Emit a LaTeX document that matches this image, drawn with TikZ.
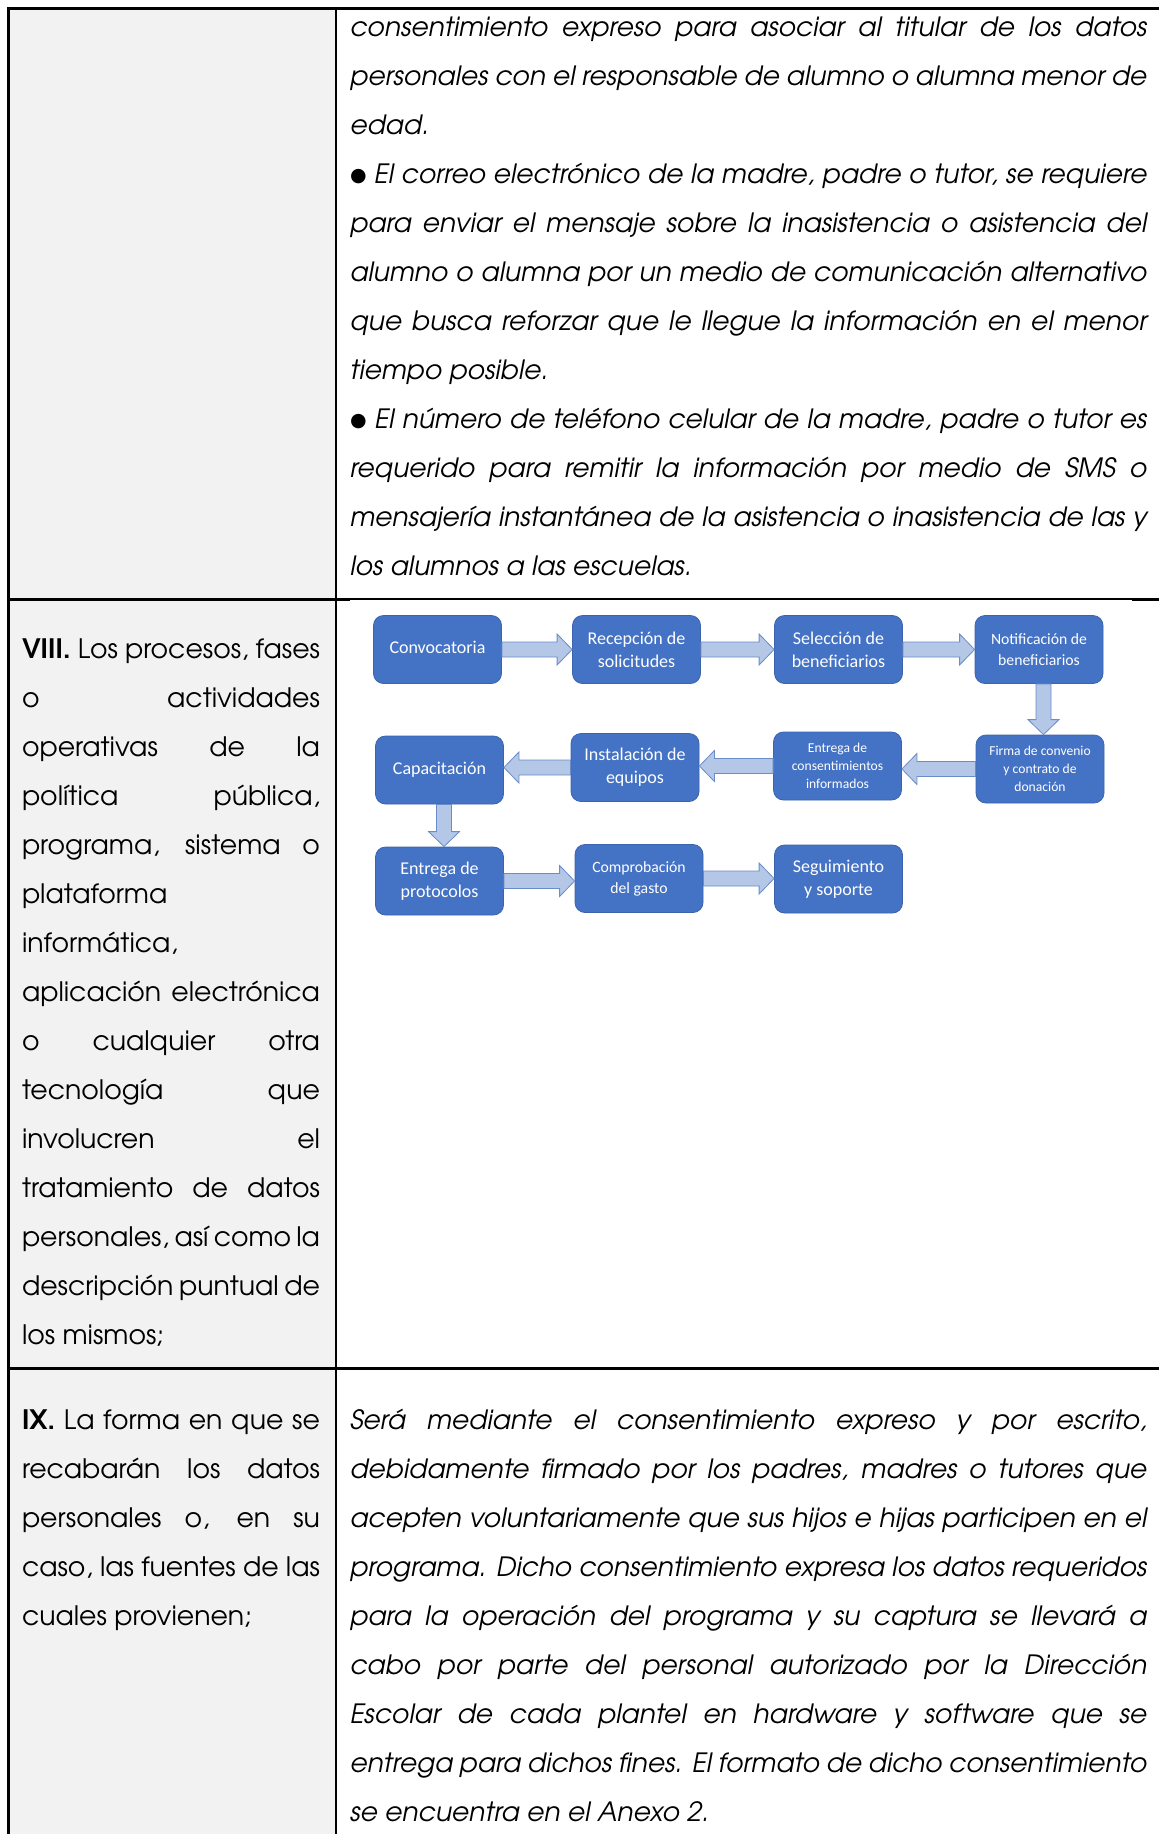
\documentclass[tikz,border=0pt]{standalone}
\usepackage{fontspec}
\setmainfont{texgyreadventor}[Extension=.otf,UprightFont=*-regular,ItalicFont=*-italic,BoldFont=*-bold,BoldItalicFont=*-bolditalic]
\newfontfamily\calfont{Carlito}
\newfontfamily\dejafont{DejaVu Sans}
\usetikzlibrary{calc}
\definecolor{boxblue}{HTML}{4472C4}
\definecolor{boxedge}{HTML}{3B64AD}
\definecolor{arrfill}{HTML}{B4C7E7}
\definecolor{arredge}{HTML}{6A8CC8}
\definecolor{cellgray}{HTML}{F2F2F2}
\newlength\wA \newlength\wB \newlength\wC \newlength\wD
\newcommand\jline[1]{\hbox to \hsize{#1}}
\newcommand\lline[1]{\hbox{#1}}
\newcommand\bul{\raisebox{2pt}{\upshape\dejafont\fontsize{19}{19}\selectfont ●}}
\newcommand\rarrow[2]{\draw[barrow] let \p1=(#1.east), \p2=(#2.west) in
  (\x1,\y1+7.5pt) -- (\x2-15pt,\y1+7.5pt) -- (\x2-15pt,\y1+15.5pt) -- (\x2,\y1)
  -- (\x2-15pt,\y1-15.5pt) -- (\x2-15pt,\y1-7.5pt) -- (\x1,\y1-7.5pt) -- cycle;}
\newcommand\larrow[2]{\draw[barrow] let \p1=(#1.west), \p2=(#2.east) in
  (\x1,\y1+7.5pt) -- (\x2+15pt,\y1+7.5pt) -- (\x2+15pt,\y1+15.5pt) -- (\x2,\y1)
  -- (\x2+15pt,\y1-15.5pt) -- (\x2+15pt,\y1-7.5pt) -- (\x1,\y1-7.5pt) -- cycle;}
\newcommand\darrow[3]{\draw[barrow] let \p1=(#1.south), \p2=(#2.north) in
  (\x1+#3-7.5pt,\y1) -- (\x1+#3-7.5pt,\y2+15pt) -- (\x1+#3-15.5pt,\y2+15pt) -- (\x1+#3,\y2)
  -- (\x1+#3+15.5pt,\y2+15pt) -- (\x1+#3+7.5pt,\y2+15pt) -- (\x1+#3+7.5pt,\y1) -- cycle;}
\tikzset{
 procbox/.style={draw=boxedge, fill=boxblue, line width=0.8pt, rounded corners=10pt,
   minimum width=128pt, minimum height=68pt, inner sep=2pt, align=center, text=white,
   font=\calfont\fontsize{18}{23}\selectfont},
 procmid/.style={procbox, font=\calfont\fontsize{15.7}{21}\selectfont},
 procsmall/.style={procbox, font=\calfont\fontsize{13.6}{18}\selectfont},
 barrow/.style={draw=arredge, fill=arrfill, line width=0.8pt, line join=miter},
 thickrule/.style={line width=3pt},
 thinrule/.style={line width=1.2pt},
 cellrule/.style={line width=2.6pt},
 textblock/.style={anchor=base west, inner sep=0pt, outer sep=0pt},
}
\begin{document}
\settowidth\wA{\fontsize{10}{12}\selectfont\itshape los alumnos a las escuelas.}%
\settowidth\wB{\fontsize{10}{12}\selectfont\itshape se encuentra en el Anexo 2.}%
\settowidth\wC{\fontsize{10}{12}\selectfont los mismos;}%
\settowidth\wD{\fontsize{10}{12}\selectfont cuales provienen;}%
\pgfmathsetmacro\fsR{10*701/(\wA+\wB)}%
\pgfmathsetmacro\fsL{10*371.5/(\wC+\wD)}%
\def\rfont{\fontsize{\fsR}{49}\selectfont\itshape}%
\def\lfont{\fontsize{\fsL}{49}\selectfont}%
\begin{tikzpicture}[x=1pt,y=-1pt]
\useasboundingbox (0,0) rectangle (1159,1834);
% table
\fill[cellgray] (8,8) rectangle (336,1834);
\draw[thickrule] (6.5,8) -- (1159,8);
\draw[thickrule] (8,8) -- (8,1834);
\draw[cellrule] (336,8) -- (336,1834);
\draw[thickrule] (8,599) -- (350,599);
\draw[thinrule] (350,599) -- (1132,599);
\draw[thickrule] (1132,599) -- (1159,599);
\draw[thickrule] (8,1368) -- (1159,1368);
% texts
\node[textblock] (cellA) at (350,36.5) {\rfont\vtop{\hsize=797pt\baselineskip=49pt
\jline{consentimiento expreso para asociar al titular de los datos}
\jline{personales con el responsable de alumno o alumna menor de}
\lline{edad.}
\jline{\bul\ El correo electrónico de la madre, padre o tutor, se requiere}
\jline{para enviar el mensaje sobre la inasistencia o asistencia del}
\jline{alumno o alumna por un medio de comunicación alternativo}
\jline{que busca reforzar que le llegue la información en el menor}
\lline{tiempo posible.}
\jline{\bul\ El número de teléfono celular de la madre, padre o tutor es}
\jline{requerido para remitir la información por medio de SMS o}
\jline{mensajería instantánea de la asistencia o inasistencia de las y}
\lline{los alumnos a las escuelas.}}};
\node[textblock] (cellB) at (22,658.5) {\lfont\vtop{\hsize=298pt\baselineskip=49pt
\jline{\textbf{VIII.} Los procesos, fases}
\jline{o actividades}
\jline{operativas de la}
\jline{política pública,}
\jline{programa, sistema o}
\lline{plataforma}
\lline{informática,}
\jline{aplicación electrónica}
\jline{o cualquier otra}
\jline{tecnología que}
\jline{involucren el}
\jline{tratamiento de datos}
\jline{personales, así como la}
\jline{descripción puntual de}
\lline{los mismos;}}};
\node[textblock] (cellC) at (22,1429.5) {\lfont\vtop{\hsize=298pt\baselineskip=49pt
\jline{\textbf{IX.} La forma en que se}
\jline{recabarán los datos}
\jline{personales o, en su}
\jline{caso, las fuentes de las}
\lline{cuales provienen;}}};
\node[textblock] (cellD) at (350,1429.5) {\rfont\vtop{\hsize=797pt\baselineskip=49pt
\jline{Será mediante el consentimiento expreso y por escrito,}
\jline{debidamente firmado por los padres, madres o tutores que}
\jline{acepten voluntariamente que sus hijos e hijas participen en el}
\jline{programa. Dicho consentimiento expresa los datos requeridos}
\jline{para la operación del programa y su captura se llevará a}
\jline{cabo por parte del personal autorizado por la Dirección}
\jline{Escolar de cada plantel en hardware y software que se}
\jline{entrega para dichos fines. El formato de dicho consentimiento}
\lline{se encuentra en el Anexo 2.}}};
% flowchart
\node[procbox] (b1) at (437.5,649.5) {\raisebox{4pt}{Convocatoria}};
\node[procbox] (b2) at (636.5,649.5) {Recepción de\\solicitudes};
\node[procbox] (b3) at (838.5,649.5) {Selección de\\beneficiarios};
\node[procmid] (b4) at (1039,649.5) {Notificación de\\beneficiarios};
\node[procsmall] (b5) at (1040,769) {Firma de convenio\\y contrato de\\donación};
\node[procsmall] (b6) at (837.5,766) {Entrega de\\consentimientos\\informados};
\node[procbox] (b7) at (635,767.5) {Instalación de\\equipos};
\node[procbox] (b8) at (439.5,770) {\raisebox{3pt}{Capacitación}};
\node[procbox] (b9) at (439.5,881) {Entrega de\\protocolos};
\node[procmid] (b10) at (639,878.5) {Comprobación\\del gasto};
\node[procbox] (b11) at (838.5,879) {Seguimiento\\y soporte};
\rarrow{b1}{b2}
\rarrow{b2}{b3}
\rarrow{b3}{b4}
\darrow{b4}{b5}{4.5pt}
\larrow{b5}{b6}
\larrow{b6}{b7}
\larrow{b7}{b8}
\darrow{b8}{b9}{4.5pt}
\rarrow{b9}{b10}
\rarrow{b10}{b11}
\end{tikzpicture}
\end{document}
